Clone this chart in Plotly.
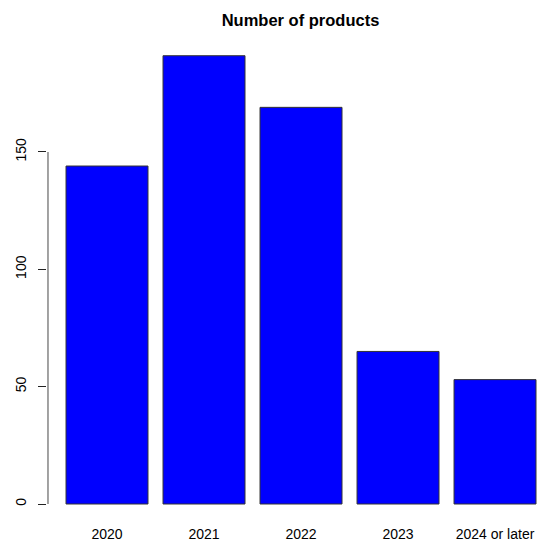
import plotly.graph_objects as go

categories = ["2020", "2021", "2022", "2023", "2024 or later"]
counts = [144, 191, 169, 65, 53]
y_ticks = [0, 50, 100, 150]

fig = go.Figure()
fig.add_trace(go.Bar(
    x=categories,
    y=counts,
    marker=dict(color="#0000FF", line=dict(color="#333333", width=1)),
    width=0.845,
    hoverinfo="skip",
))

# y axis line only spanning tick range (as in R base graphics)
fig.add_shape(type="line", xref="paper", yref="y", x0=0.002, x1=0.002,
              y0=min(y_ticks), y1=max(y_ticks), layer="above",
              line=dict(color="#8c8c8c", width=1.6))

fig.update_layout(
    width=538, height=543,
    margin=dict(l=47, r=0, t=38, b=33),
    paper_bgcolor="white", plot_bgcolor="white",
    showlegend=False,
    font=dict(family="Liberation Sans, Arial, sans-serif", size=14, color="black"),
    title=dict(text="<b>Number of products</b>", x=300.5 / 538, xref="container",
               xanchor="center", y=1 - 20 / 543, yref="container", yanchor="middle",
               font=dict(size=16.5, color="black")),
    xaxis=dict(
        type="category",
        range=[-0.6186, 4.443],
        automargin=False,
        showgrid=False, zeroline=False, showline=False,
        ticks="", ticklabelstandoff=14,
        tickfont=dict(size=14),
    ),
    yaxis=dict(
        range=[-2.556, 198.55],
        tickvals=y_ticks,
        automargin=False,
        showgrid=False, zeroline=False, showline=False,
        ticks="outside", ticklen=8, tickcolor="#222222", tickwidth=1,
        tickangle=-90,
        tickfont=dict(size=14),
        ticklabelstandoff=6,
    ),
)

fig.write_html("out.html", post_script="document.body.style.margin='0';",
               config={"displayModeBar": False})
